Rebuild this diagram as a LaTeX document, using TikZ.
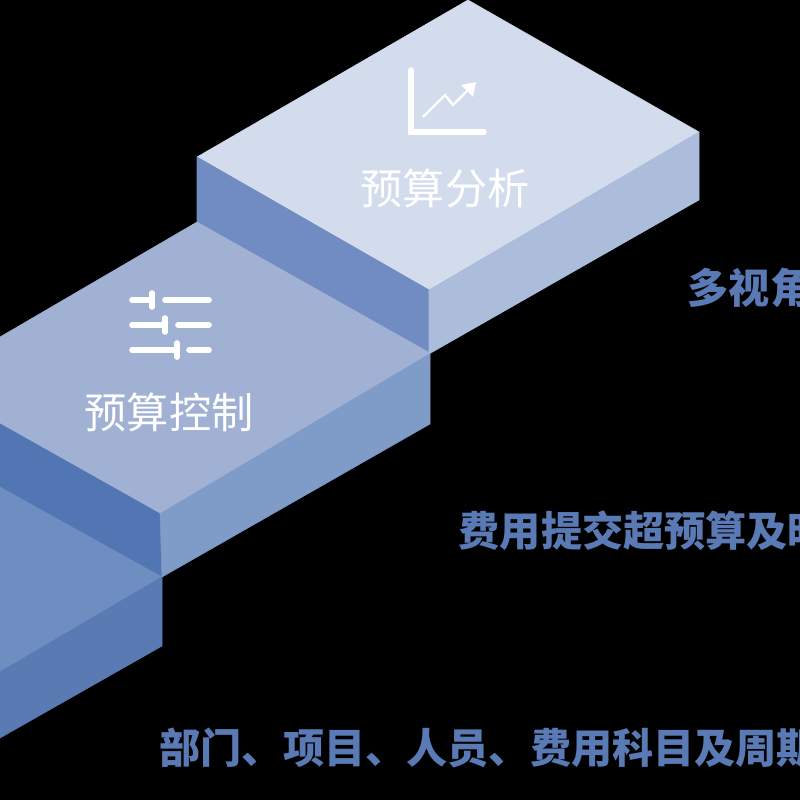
\documentclass[tikz,border=0pt]{standalone}
\usepackage{fontspec}
\setmainfont{Noto Sans CJK SC}
\definecolor{topA}{HTML}{D3DCEC}
\definecolor{leftA}{HTML}{708CC2}
\definecolor{rightA}{HTML}{ABBDDB}
\definecolor{topB}{HTML}{A0B1D4}
\definecolor{leftB}{HTML}{5276B3}
\definecolor{rightB}{HTML}{7F9BC8}
\definecolor{topC}{HTML}{6E8DC1}
\definecolor{rightC}{HTML}{5A7AB4}
\definecolor{labelblue}{HTML}{5A7AB5}
\tikzset{
  stepname/.style={text=white, font=\fontsize{12pt}{14pt}\selectfont, inner sep=0pt},
  stepnote/.style={text=labelblue, font=\fontsize{11.7pt}{14pt}\selectfont\bfseries, anchor=west, inner sep=0pt},
  face/.style={fill=#1, draw=#1, line width=0.15pt, line join=round},
  iconline/.style={draw=white, line width=1.6pt, line cap=round},
  thinline/.style={draw=white, line width=0.7pt}
}
\begin{document}
\begin{tikzpicture}[x=0.01cm, y=-0.01cm]
   \fill[black] (0,0) rectangle (800,800);
   \clip (0,0) rectangle (800,800);

   % corners of the three blocks
   \foreach \n/\x/\y in {a1/468/0, a2/197/157, a3/429/290, a4/699/132, a5/197/222, a6/429/354, a7/699/200,
                         b1/0/337, b2/160/513, b3/430/424, b4/162/577, b5/0/423, b6/0/487, b7/430/353,
                         c1/0/672, c2/162/646, c3/0/738}
     \coordinate (\n) at (\x,\y);

   \foreach \p/\q/\r/\s/\c in {a1/a2/a3/a4/topA, a2/a3/a6/a5/leftA, a3/a4/a7/a6/rightA,
                               b5/b2/b4/b6/leftB, b2/b7/b3/b4/rightB,
                               b6/b4/c1/c1/topC, b4/c2/c3/c1/rightC}
     \path[face=\c] (\p) -- (\q) -- (\r) -- (\s) -- cycle;
   \path[face=topB] (a5) -- (b1) -- (b5) -- (b2) -- (b7) -- cycle;

   \node[stepname] (analysis) at (445,188) {预算分析};
   \node[stepname] (control) at (169,412) {预算控制};
   \node[stepnote] (note1) at (687,288) {多视角};
   \node[stepnote] (note2) at (458,531) {费用提交超预算及时};
   \node[stepnote] (note3) at (159,748) {部门、项目、人员、费用科目及周期};

   % chart icon
   \draw[iconline] (411,70) -- (411,132) -- (484,132);
   \draw[thinline] (423,117) -- (445,95) -- (453,105) -- (470,88);
   \fill[white] (476,82) -- (461,85) -- (473,97) -- cycle;

   % slider icon
   \foreach \y/\t/\r in {300/152/165, 325/165/178, 350/177/189} {
     \draw[iconline] (132,\y) -- (\t,\y);
     \draw[iconline] (\t,\y-7) -- (\t,\y+7);
     \draw[iconline] (\r,\y) -- (209,\y);
   }
\end{tikzpicture}
\end{document}
